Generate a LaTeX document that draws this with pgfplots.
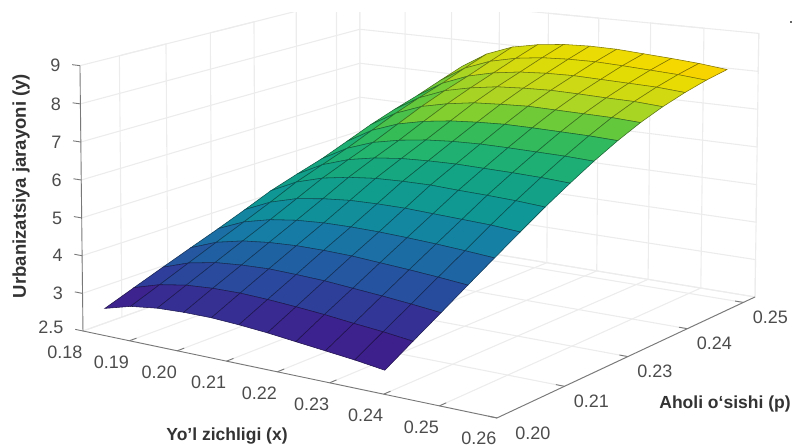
\documentclass[border=0pt]{standalone}
\usepackage{pgfplots}
\usepackage{fontspec}
\setmainfont{Liberation Sans}
\pgfplotsset{compat=1.18}
\makeatletter
\newdimen\PU \newdimen\PV \newdimen\PW \newdimen\PD \newdimen\PN
\def\perspointxyz#1#2#3{%
 \PU=#1pt \PU=12.5\PU \advance\PU by -2.25pt
 \PV=#2pt \advance\PV by -0.2pt \PV=18.975\PV
 \PW=#3pt \advance\PW by -2pt \PW=0.142857\PW
 \PD=1pt \advance\PD by -0.1155\PU \advance\PD by 0.1235\PV \advance\PD by -0.01\PW
 \PN=83pt \advance\PN by 356.6\PU \advance\PN by 321.5\PV \advance\PN by -3.8\PW
 \global\pgf@x=\dimexpr\PN*65536/\number\PD\relax
 \PN=331pt \advance\PN by 38.7\PU \advance\PN by -70.35\PV \advance\PN by -266\PW
 \global\pgf@y=\dimexpr 446pt-\PN*65536/\number\PD\relax
}
\makeatother
\definecolor{gridc}{RGB}{236,236,236}
\definecolor{axc}{RGB}{120,120,120}
\pgfplotsset{
 colormap={ref}{rgb255(0mm)=(62,28,138) rgb255(9mm)=(60,35,142) rgb255(18mm)=(45,65,155) rgb255(28mm)=(32,95,162) rgb255(37mm)=(22,125,165) rgb255(46mm)=(15,150,150) rgb255(57mm)=(20,165,130) rgb255(64mm)=(35,180,110) rgb255(71mm)=(60,190,80) rgb255(76mm)=(135,208,45) rgb255(80mm)=(190,215,30) rgb255(84mm)=(225,220,5) rgb255(87mm)=(242,218,0) rgb255(94mm)=(255,200,0)},
 gl/.style={draw=gridc,line width=1.1pt,no marks,forget plot},
 al/.style={draw=axc,line width=0.9pt,no marks,forget plot,unbounded coords=jump},
}
\begin{document}
\makeatletter
\begin{tikzpicture}
\begin{axis}[
 disabledatascaling,
 x={(5175pt,-1087pt)},y={(4896pt,2296pt)},z={(0pt,38pt)},
 xmin=0.18,xmax=0.26,ymin=0.2,ymax=0.2527,zmin=2,zmax=9,
 clip=false,grid=none,
 axis line style={draw=none},major tick length=0pt,
 xtick={0.18,0.19,0.20,0.21,0.22,0.23,0.24,0.25,0.26},
 xticklabels={0.18,0.19,0.20,0.21,0.22,0.23,0.24,0.25,\raisebox{3pt}{0.26}},
 ytick={0.2,0.2125,0.225,0.2375,0.25},
 yticklabels={\hspace{18pt}0.20,0.21,0.23,0.24,0.25},
 ztick={2,3,4,5,6,7,8,9},
 zticklabels={\raisebox{7pt}{2.5},3,4,5,6,7,8,9},
 tick label style={font=\fontsize{18}{18}\selectfont,text=black!70},
 xticklabel style={anchor=center,xshift=-18pt,yshift=-21.5pt},
 yticklabel style={anchor=center,xshift=27pt,yshift=-15pt},
 zticklabel style={anchor=east,xshift=-16pt},
 every axis x label/.style={at={(canvas cs:x=227pt,y=10pt)},anchor=center,font=\bfseries\fontsize{17.5}{17.5}\selectfont,text=black!80},
 every axis y label/.style={at={(canvas cs:x=725pt,y=42pt)},anchor=center,font=\bfseries\fontsize{17.5}{17.5}\selectfont,text=black!80},
 every axis z label/.style={at={(canvas cs:x=21pt,y=260pt)},anchor=center,rotate=90,font=\bfseries\fontsize{18.5}{18.5}\selectfont,text=black!80},
 xlabel={Yo'l zichligi (x)},
 ylabel={Aholi o‘sishi (p)},
 zlabel={Urbanizatsiya jarayoni (y)},
 colormap name=ref,
 point meta min=2.6,point meta max=7.3,
]
\let\pgfplotsqpointxyz\perspointxyz
\addplot3[gl] coordinates {(0.18,0.2527,2)(0.18,0.2527,9)(0.19,0.2527,9)(0.19,0.2527,2)(0.20,0.2527,2)(0.20,0.2527,9)(0.21,0.2527,9)(0.21,0.2527,2)(0.22,0.2527,2)(0.22,0.2527,9)(0.23,0.2527,9)(0.23,0.2527,2)(0.24,0.2527,2)(0.24,0.2527,9)(0.25,0.2527,9)(0.25,0.2527,2)(0.26,0.2527,2)(0.26,0.2527,9)};
\addplot3[gl] coordinates {(0.18,0.2527,2)(0.26,0.2527,2)(0.26,0.2527,3)(0.18,0.2527,3)(0.18,0.2527,4)(0.26,0.2527,4)(0.26,0.2527,5)(0.18,0.2527,5)(0.18,0.2527,6)(0.26,0.2527,6)(0.26,0.2527,7)(0.18,0.2527,7)(0.18,0.2527,8)(0.26,0.2527,8)(0.26,0.2527,9)(0.18,0.2527,9)};
\addplot3[gl] coordinates {(0.18,0.2,2)(0.18,0.2527,2)(0.18,0.2527,3)(0.18,0.2,3)(0.18,0.2,4)(0.18,0.2527,4)(0.18,0.2527,5)(0.18,0.2,5)(0.18,0.2,6)(0.18,0.2527,6)(0.18,0.2527,7)(0.18,0.2,7)(0.18,0.2,8)(0.18,0.2527,8)(0.18,0.2527,9)(0.18,0.2,9)};
\addplot3[gl] coordinates {(0.18,0.2067,2)(0.18,0.2067,9)(0.18,0.2149,9)(0.18,0.2149,2)(0.18,0.2230,2)(0.18,0.2230,9)(0.18,0.2313,9)(0.18,0.2313,2)(0.18,0.2396,2)(0.18,0.2396,9)(0.18,0.2478,9)(0.18,0.2478,2)};
\addplot3[gl] coordinates {(0.18,0.2,2)(0.18,0.2527,2)(0.19,0.2527,2)(0.19,0.2,2)(0.20,0.2,2)(0.20,0.2527,2)(0.21,0.2527,2)(0.21,0.2,2)(0.22,0.2,2)(0.22,0.2527,2)(0.23,0.2527,2)(0.23,0.2,2)(0.24,0.2,2)(0.24,0.2527,2)(0.25,0.2527,2)(0.25,0.2,2)(0.26,0.2,2)(0.26,0.2527,2)};
\addplot3[gl] coordinates {(0.18,0.2125,2)(0.26,0.2125,2)(0.26,0.225,2)(0.18,0.225,2)(0.18,0.2375,2)(0.26,0.2375,2)(0.26,0.25,2)(0.18,0.25,2)};
\addplot3[al] coordinates {(0.18,0.2,9)(0.18,0.2,2)(0.26,0.2,2)(0.26,0.2527,2)};
\addplot3[al] coordinates {
(0.18,0.2,2)(0.1783,0.2,2)(0.18,0.2,nan)
(0.18,0.2,3)(0.1783,0.2,3)(0.18,0.2,nan)
(0.18,0.2,4)(0.1783,0.2,4)(0.18,0.2,nan)
(0.18,0.2,5)(0.1783,0.2,5)(0.18,0.2,nan)
(0.18,0.2,6)(0.1783,0.2,6)(0.18,0.2,nan)
(0.18,0.2,7)(0.1783,0.2,7)(0.18,0.2,nan)
(0.18,0.2,8)(0.1783,0.2,8)(0.18,0.2,nan)
(0.18,0.2,9)(0.1783,0.2,9)(0.18,0.2,nan)
(0.19,0.2,2)(0.19,0.2012,2)(0.19,0.2,nan)
(0.20,0.2,2)(0.20,0.2012,2)(0.20,0.2,nan)
(0.21,0.2,2)(0.21,0.2012,2)(0.21,0.2,nan)
(0.22,0.2,2)(0.22,0.2012,2)(0.22,0.2,nan)
(0.23,0.2,2)(0.23,0.2012,2)(0.23,0.2,nan)
(0.24,0.2,2)(0.24,0.2012,2)(0.24,0.2,nan)
(0.25,0.2,2)(0.25,0.2012,2)(0.25,0.2,nan)
(0.26,0.2,2)(0.2585,0.2,2)(0.26,0.2,nan)
(0.26,0.2125,2)(0.2585,0.2125,2)(0.26,0.2,nan)
(0.26,0.225,2)(0.2585,0.225,2)(0.26,0.2,nan)
(0.26,0.2375,2)(0.2585,0.2375,2)(0.26,0.2,nan)
(0.26,0.25,2)(0.2585,0.25,2)(0.26,0.2,nan)
};
\addplot3[surf,shader=faceted,faceted color=mapped color!55!black,line width=0.55pt,z buffer=none,mesh/ordering=x varies,mesh/rows=15,mesh/cols=11,point meta=explicit] coordinates {
(0.1848,0.2705,6.28)[6.55](0.1903,0.2705,6.74)[6.62](0.1959,0.2705,7.03)[6.72](0.2014,0.2705,7.18)[6.80](0.2070,0.2705,7.27)[6.85](0.2125,0.2705,7.30)[6.88](0.2181,0.2705,7.29)[6.92](0.2236,0.2705,7.24)[6.98](0.2292,0.2705,7.19)[7.05](0.2347,0.2705,7.13)[7.15](0.2402,0.2705,7.04)[7.30]
(0.1848,0.2655,6.05)[6.35](0.1903,0.2655,6.51)[6.55](0.1959,0.2655,6.80)[6.70](0.2014,0.2655,6.97)[6.78](0.2070,0.2655,7.07)[6.82](0.2125,0.2655,7.11)[6.84](0.2181,0.2655,7.12)[6.86](0.2236,0.2655,7.09)[6.87](0.2292,0.2655,7.05)[6.88](0.2347,0.2655,7.01)[6.90](0.2402,0.2655,6.94)[6.94]
(0.1848,0.2605,5.81)[6.10](0.1903,0.2605,6.26)[6.35](0.1959,0.2605,6.56)[6.52](0.2014,0.2605,6.74)[6.62](0.2070,0.2605,6.85)[6.68](0.2125,0.2605,6.90)[6.72](0.2181,0.2605,6.92)[6.74](0.2236,0.2605,6.90)[6.76](0.2292,0.2605,6.88)[6.78](0.2347,0.2605,6.86)[6.80](0.2402,0.2605,6.80)[6.80]
(0.1848,0.2554,5.60)[5.90](0.1903,0.2554,6.04)[6.14](0.1959,0.2554,6.34)[6.36](0.2014,0.2554,6.51)[6.48](0.2070,0.2554,6.63)[6.55](0.2125,0.2554,6.68)[6.58](0.2181,0.2554,6.71)[6.60](0.2236,0.2554,6.70)[6.62](0.2292,0.2554,6.68)[6.62](0.2347,0.2554,6.67)[6.62](0.2402,0.2554,6.62)[6.62]
(0.1848,0.2504,5.37)[5.86](0.1903,0.2504,5.80)[6.21](0.1959,0.2504,6.09)[6.42](0.2014,0.2504,6.26)[6.50](0.2070,0.2504,6.38)[6.54](0.2125,0.2504,6.43)[6.51](0.2181,0.2504,6.47)[6.47](0.2236,0.2504,6.46)[6.46](0.2292,0.2504,6.45)[6.45](0.2347,0.2504,6.44)[6.44](0.2402,0.2504,6.40)[6.40]
(0.1848,0.2454,5.10)[5.65](0.1903,0.2454,5.52)[5.98](0.1959,0.2454,5.80)[6.17](0.2014,0.2454,5.97)[6.25](0.2070,0.2454,6.08)[6.26](0.2125,0.2454,6.14)[6.23](0.2181,0.2454,6.18)[6.18](0.2236,0.2454,6.18)[6.18](0.2292,0.2454,6.17)[6.17](0.2347,0.2454,6.16)[6.16](0.2402,0.2454,6.13)[6.13]
(0.1848,0.2403,4.83)[5.42](0.1903,0.2403,5.23)[5.72](0.1959,0.2403,5.50)[5.89](0.2014,0.2403,5.66)[5.95](0.2070,0.2403,5.77)[5.97](0.2125,0.2403,5.83)[5.93](0.2181,0.2403,5.86)[5.86](0.2236,0.2403,5.86)[5.86](0.2292,0.2403,5.85)[5.85](0.2347,0.2403,5.84)[5.84](0.2402,0.2403,5.81)[5.81]
(0.1848,0.2353,4.62)[5.22](0.1903,0.2353,4.99)[5.49](0.1959,0.2353,5.24)[5.64](0.2014,0.2353,5.39)[5.69](0.2070,0.2353,5.48)[5.68](0.2125,0.2353,5.52)[5.62](0.2181,0.2353,5.54)[5.54](0.2236,0.2353,5.53)[5.53](0.2292,0.2353,5.52)[5.52](0.2347,0.2353,5.50)[5.50](0.2402,0.2353,5.46)[5.46]
(0.1848,0.2302,4.39)[4.98](0.1903,0.2302,4.74)[5.23](0.1959,0.2302,4.96)[5.35](0.2014,0.2302,5.09)[5.38](0.2070,0.2302,5.17)[5.37](0.2125,0.2302,5.20)[5.30](0.2181,0.2302,5.21)[5.21](0.2236,0.2302,5.18)[5.18](0.2292,0.2302,5.16)[5.16](0.2347,0.2302,5.13)[5.13](0.2402,0.2302,5.08)[5.08]
(0.1848,0.2252,4.10)[4.65](0.1903,0.2252,4.42)[4.88](0.1959,0.2252,4.63)[5.00](0.2014,0.2252,4.74)[5.02](0.2070,0.2252,4.81)[4.99](0.2125,0.2252,4.83)[4.92](0.2181,0.2252,4.83)[4.83](0.2236,0.2252,4.80)[4.80](0.2292,0.2252,4.77)[4.77](0.2347,0.2252,4.74)[4.74](0.2402,0.2252,4.68)[4.68]
(0.1848,0.2202,3.82)[4.31](0.1903,0.2202,4.12)[4.53](0.1959,0.2202,4.30)[4.63](0.2014,0.2202,4.40)[4.64](0.2070,0.2202,4.45)[4.61](0.2125,0.2202,4.46)[4.54](0.2181,0.2202,4.45)[4.45](0.2236,0.2202,4.42)[4.42](0.2292,0.2202,4.38)[4.38](0.2347,0.2202,4.33)[4.33](0.2402,0.2202,4.27)[4.27]
(0.1848,0.2151,3.55)[3.95](0.1903,0.2151,3.82)[4.16](0.1959,0.2151,3.98)[4.25](0.2014,0.2151,4.06)[4.26](0.2070,0.2151,4.10)[4.23](0.2125,0.2151,4.10)[4.17](0.2181,0.2151,4.08)[4.08](0.2236,0.2151,4.03)[4.03](0.2292,0.2151,3.98)[3.98](0.2347,0.2151,3.92)[3.92](0.2402,0.2151,3.85)[3.85]
(0.1848,0.2101,3.28)[3.57](0.1903,0.2101,3.52)[3.77](0.1959,0.2101,3.66)[3.86](0.2014,0.2101,3.72)[3.87](0.2070,0.2101,3.75)[3.85](0.2125,0.2101,3.73)[3.78](0.2181,0.2101,3.70)[3.70](0.2236,0.2101,3.64)[3.64](0.2292,0.2101,3.58)[3.58](0.2347,0.2101,3.51)[3.51](0.2402,0.2101,3.43)[3.43]
(0.1848,0.2050,3.00)[3.16](0.1903,0.2050,3.21)[3.34](0.1959,0.2050,3.33)[3.44](0.2014,0.2050,3.38)[3.46](0.2070,0.2050,3.39)[3.44](0.2125,0.2050,3.36)[3.39](0.2181,0.2050,3.31)[3.31](0.2236,0.2050,3.25)[3.25](0.2292,0.2050,3.17)[3.17](0.2347,0.2050,3.10)[3.10](0.2402,0.2050,3.01)[3.01]
(0.1848,0.2,2.72)[2.72](0.1903,0.2,2.91)[2.91](0.1959,0.2,3.00)[3.00](0.2014,0.2,3.03)[3.03](0.2070,0.2,3.03)[3.03](0.2125,0.2,2.99)[2.99](0.2181,0.2,2.93)[2.93](0.2236,0.2,2.85)[2.85](0.2292,0.2,2.77)[2.77](0.2347,0.2,2.69)[2.69](0.2402,0.2,2.59)[2.59]
};
\coordinate (PSW) at (canvas cs:x=0pt,y=0pt);
\end{axis}
\fill[white] ([yshift=434pt]PSW) rectangle ++(793pt,40pt);
\fill[black!60] ([xshift=789.5pt,yshift=423pt]PSW) rectangle ++(2.5pt,1.5pt);
\pgfresetboundingbox
\path[use as bounding box] (PSW) rectangle ++(793pt,446pt);
\end{tikzpicture}
\end{document}
